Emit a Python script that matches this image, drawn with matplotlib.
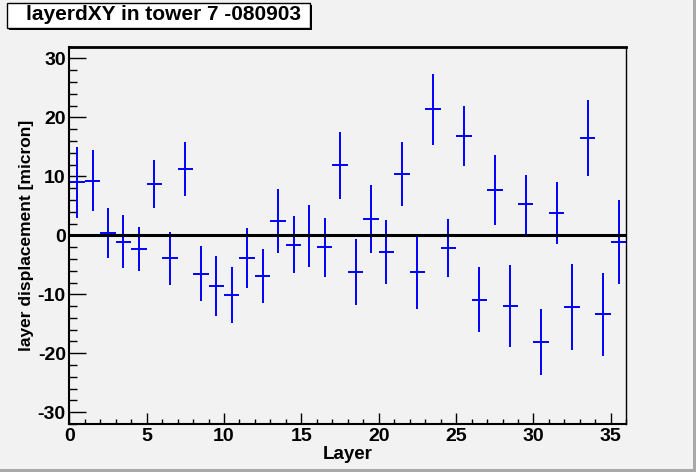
import matplotlib
matplotlib.use("Agg")
import matplotlib.pyplot as plt
from matplotlib.patches import Rectangle
from matplotlib.ticker import MultipleLocator
import numpy as np

# layer displacement per layer
layers = np.arange(36) + 0.5
disp = [9.0, 9.3, 0.4, -1.1, -2.3, 8.7, -3.9, 11.2, -6.5, -8.6,
        -10.1, -3.9, -6.9, 2.4, -1.6, -0.1, -2.0, 11.9, -6.2, 2.8,
        -2.8, 10.4, -6.2, 21.4, -2.1, 16.8, -10.9, 7.7, -12.0, 5.3,
        -18.1, 3.8, -12.1, 16.5, -13.4, -1.1]
err = [6.0, 5.1, 4.2, 4.5, 3.8, 4.0, 4.5, 4.6, 4.7, 5.1,
       4.7, 5.1, 4.6, 5.4, 4.8, 5.2, 5.0, 5.7, 5.6, 5.8,
       5.4, 5.4, 6.3, 6.0, 4.9, 5.1, 5.5, 6.0, 7.0, 5.0,
       5.6, 5.2, 7.3, 6.4, 7.0, 7.1]

bg = '#f2f2f2'
plt.rcParams['font.family'] = ['Liberation Sans', 'DejaVu Sans']
plt.rcParams['font.weight'] = 'bold'
plt.rcParams['axes.unicode_minus'] = False

fig = plt.figure(figsize=(6.96, 4.72), dpi=100, facecolor=bg)
ax = fig.add_axes([69.3/696, 48/472, 557/696, 377.3/472])
ax.set_facecolor(bg)

ax.errorbar(layers, disp, yerr=err, xerr=0.5, fmt='none', ecolor='#0000ff',
            elinewidth=1.4, capsize=0)
ax.axhline(0, color='black', lw=2.2)

ax.set_xlim(0, 36)
ax.set_ylim(-32, 32)
ax.xaxis.set_major_locator(MultipleLocator(5))
ax.xaxis.set_minor_locator(MultipleLocator(1))
ax.yaxis.set_major_locator(MultipleLocator(10))
ax.yaxis.set_minor_locator(MultipleLocator(2))
ax.tick_params(axis='x', which='major', direction='in', length=8, width=1,
               labelsize=14, pad=3, top=False)
ax.tick_params(axis='x', which='minor', direction='in', length=3.5, width=1, top=False)
ax.tick_params(axis='y', which='major', direction='in', length=12.5, width=1,
               labelsize=14, pad=2.5, right=False)
ax.tick_params(axis='y', which='minor', direction='in', length=6, width=1, right=False)
for lab in ax.get_xticklabels() + ax.get_yticklabels():
    lab.set_fontweight('bold')

ax.spines['top'].set_linewidth(2)
ax.spines['left'].set_linewidth(1.5)
ax.spines['bottom'].set_linewidth(1.5)
ax.spines['right'].set_linewidth(1)

ax.set_xlabel('Layer', fontsize=13.5, fontweight='bold')
ax.set_ylabel('layer displacement [micron]', fontsize=12.5, fontweight='bold')
ax.xaxis.set_label_coords(0.5, -(446 - 424) / 377.3)
ax.yaxis.set_label_coords((34 - 69.3) / 557, 0.5)

# title box with shadow, like ROOT
fig.patches.append(Rectangle((9/696, 1 - 30/472), 303/696, 25/472,
                             transform=fig.transFigure, facecolor='black',
                             edgecolor='none'))
fig.patches.append(Rectangle((7/696, 1 - 27.5/472), 303/696, 25/472,
                             transform=fig.transFigure, facecolor='white',
                             edgecolor='black', lw=1))
fig.text(163/696, 1 - 15/472, 'layerdXY in tower 7 -080903', ha='center',
         va='center', fontsize=15, fontweight='bold')

# canvas border
fig.patches.append(Rectangle((693/696, 0), 3/696, 1, transform=fig.transFigure,
                             facecolor='#a8a8a8', edgecolor='none'))
fig.patches.append(Rectangle((0, 0), 1, 3/472, transform=fig.transFigure,
                             facecolor='#a8a8a8', edgecolor='none'))

fig.savefig('out.png', dpi=100, facecolor=bg)
